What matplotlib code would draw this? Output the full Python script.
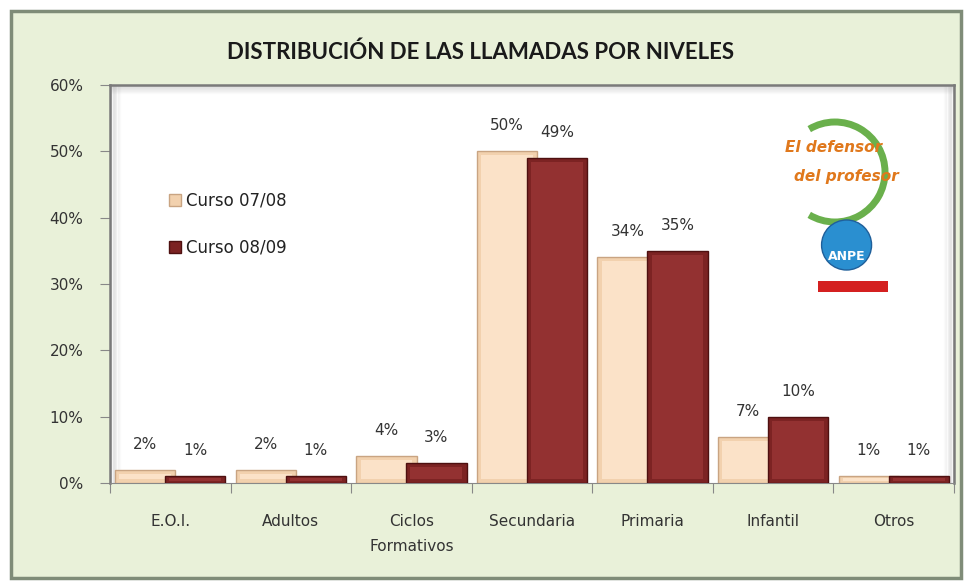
import numpy as np
import matplotlib.pyplot as plt
from matplotlib import font_manager
from matplotlib.patches import Rectangle, Arc, Ellipse
from matplotlib.ticker import PercentFormatter

categories = ["E.O.I.", "Adultos", "Ciclos\nFormativos", "Secundaria", "Primaria", "Infantil", "Otros"]
curso_0708 = [0.02, 0.02, 0.04, 0.50, 0.34, 0.07, 0.01]
curso_0809 = [0.01, 0.01, 0.03, 0.49, 0.35, 0.10, 0.01]
series_names = ["Curso 07/08", "Curso 08/09"]

bg = "#e9f1d9"
peach, peach_edge, peach_light = "#f2d1ae", "#c9a482", "#fbe2c8"
wine, wine_edge, wine_light = "#7c2323", "#4e1010", "#933131"

names = {f.name for f in font_manager.fontManager.ttflist}
title_font = "Liberation Sans Narrow" if "Liberation Sans Narrow" in names else "Lato"

fig = plt.figure(figsize=(9.64, 5.84), dpi=100)
fig.patch.set_facecolor("white")

# outer frame of the chart
frame = Rectangle((11 / 964, 6 / 584), 950 / 964, 567 / 584, transform=fig.transFigure,
                  facecolor=bg, edgecolor="#7f8c78", linewidth=2.5, zorder=-5)
fig.patches.append(frame)

ax = fig.add_axes([110 / 964, 1 - 483 / 584, 844 / 964, 398 / 584])
ax.set_facecolor("white")

x = np.arange(len(categories))
off, w = 0.207, 0.5
series = [(curso_0708, -off, peach, peach_edge, peach_light, series_names[0], 3),
          (curso_0809, off, wine, wine_edge, wine_light, series_names[1], 5)]
for vals, dx, fc, ec, lc, name, z in series:
    bars = ax.bar(x + dx, vals, width=w, color=fc, edgecolor=ec, linewidth=1.0, label=name, zorder=z)
    # bevel: lighter inner face
    for b in bars:
        h = b.get_height()
        iy = min(0.006, h * 0.3)
        ax.add_patch(Rectangle((b.get_x() + 0.035, iy), b.get_width() - 0.07, h - 2 * iy,
                               facecolor=lc, edgecolor="none", zorder=z + 0.5))
    for xi, v in zip(x + dx, vals):
        ax.annotate(f"{v:.0%}", (xi, v), xytext=(0, 13), textcoords="offset points",
                    ha="center", va="bottom", fontsize=11, color="#333333", zorder=7)

ax.set_xlim(-0.5, len(categories) - 0.5)
ax.set_ylim(0, 0.6)
ax.set_yticks(np.arange(0, 0.61, 0.1))
ax.yaxis.set_major_formatter(PercentFormatter(1.0, decimals=0))
ax.set_xticks(np.arange(-0.5, len(categories), 1.0))
ax.set_xticklabels([])
ax.set_xticks(x, minor=True)
ax.set_xticklabels(categories, minor=True, fontsize=11, color="#333333", linespacing=1.9)
ax.tick_params(axis="x", which="minor", length=0, pad=22)
ax.tick_params(axis="x", which="major", length=7, color="#888888", direction="out")
ax.tick_params(axis="y", length=7, color="#888888", labelsize=11, labelcolor="#333333", pad=12)

for side in ["top", "right", "left"]:
    ax.spines[side].set_color("#7a7a7a")
    ax.spines[side].set_linewidth(1.8)
ax.spines["bottom"].set_color("#888888")

# inner shadow along the plot area edges
for i in range(8):
    a = 0.2 * (1 - i / 8)
    d = 0.0015 * (i + 1)
    ax.plot([0, 1], [1 - d * 1.6, 1 - d * 1.6], transform=ax.transAxes, color="grey", alpha=a, lw=1, zorder=1)
    ax.plot([d, d], [0, 1], transform=ax.transAxes, color="grey", alpha=a, lw=1, zorder=1)
    ax.plot([1 - d, 1 - d], [0, 1], transform=ax.transAxes, color="grey", alpha=a, lw=1, zorder=1)

fig.text(481 / 964, 1 - 52 / 584, "DISTRIBUCIÓN DE LAS LLAMADAS POR NIVELES", ha="center", va="center",
         fontsize=16, fontweight="bold", color="#1a1a1a", family=title_font)

leg = ax.legend(loc="upper left", bbox_to_anchor=(0.052, 0.77), frameon=False, fontsize=12,
                handlelength=0.75, handleheight=0.75, handletextpad=0.3, labelspacing=1.75)
for t in leg.get_texts():
    t.set_color("#222222")

# logo approximation
lx, ly = 835 / 964, 1 - 172 / 584
fig.patches.append(Arc((lx, ly), 100 / 964, 100 / 584, theta1=250, theta2=110, transform=fig.transFigure,
                       color="#6ab04c", linewidth=5, zorder=6))
fig.text(lx - 0.002, 1 - 148 / 584, "El defensor", ha="center", va="center", fontsize=11,
         style="italic", fontweight="bold", color="#e0781c", zorder=7)
fig.text(lx + 0.012, 1 - 177 / 584, "del profesor", ha="center", va="center", fontsize=11,
         style="italic", fontweight="bold", color="#e0781c", zorder=7)
fig.patches.append(Ellipse((lx + 0.012, 1 - 245 / 584), 50 / 964, 50 / 584, transform=fig.transFigure,
                           facecolor="#2a8fd0", edgecolor="#1f5f9a", zorder=6))
fig.text(lx + 0.012, 1 - 256 / 584, "ANPE", ha="center", va="center", fontsize=9,
         fontweight="bold", color="white", zorder=7)
fig.patches.append(Rectangle((818 / 964, 1 - 292 / 584), 70 / 964, 11 / 584, transform=fig.transFigure,
                             facecolor="#d42020", edgecolor="none", zorder=6))

fig.savefig("out.png", dpi=100, facecolor=fig.get_facecolor())
